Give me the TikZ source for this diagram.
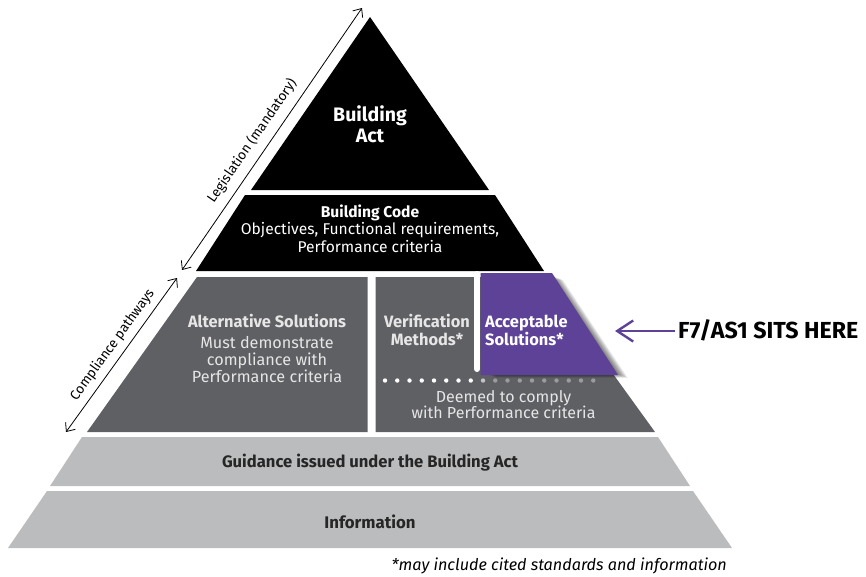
\documentclass[tikz,border=0pt]{standalone}
\usepackage{fontspec}
\setmainfont{Fira Sans}
\usetikzlibrary{arrows.meta}
\definecolor{midgrey}{HTML}{5F6064}
\definecolor{lightgrey}{HTML}{BBBCBE}
\definecolor{purp}{HTML}{5E4298}
\definecolor{paletext}{HTML}{E6E6E6}
\definecolor{dotgrey}{HTML}{9A9B9D}
\definecolor{dottrans}{HTML}{C4C4C6}
\definecolor{darktext}{HTML}{262626}
\begin{document}
\begin{tikzpicture}[x=1pt,y=-1pt,
  txt/.style={inner sep=0pt, align=center},
  dblarrow/.style={{Straight Barb[length=7pt,width=12pt]}-{Straight Barb[length=7pt,width=12pt]}, line width=0.8pt, black},
  farrow/.style={-{Straight Barb[length=16pt,width=21pt]}, line width=2.4pt, purp},
  sidelbl/.style={font=\fontsize{13.6}{15}\selectfont, sloped, inner sep=0pt}
]
\useasboundingbox (0,0) rectangle (866,576);
% layers
\fill[black] (370,17) -- (489,190) -- (251,190) -- cycle;
\fill[black] (245,195) -- (495,195) -- (544,271) -- (196,271) -- cycle;
\fill[midgrey] (197,277) -- (367.5,277) -- (367.5,432) -- (87,432) -- cycle;
\fill[midgrey] (375.5,277) -- (543,277) -- (655,432) -- (375.5,432) -- cycle;
\fill[lightgrey] (82,437) -- (658,437) -- (690,486) -- (50,486) -- cycle;
\fill[lightgrey] (47,491) -- (693,491) -- (732,548) -- (8,548) -- cycle;
% white divider
\draw[white, line width=6pt, line cap=round] (477,274) -- (477,369);
% shadow of purple block
\foreach \k in {1,...,14}
  \fill[black, opacity=0.05, shift={(0.85*\k,0.35*\k)}]
    (484,275) -- (551,275) -- (616,373) -- (484,373) -- cycle;
% purple block
\fill[purp] (480.5,273) -- (552,273) -- (618,375) -- (480.5,375) -- cycle;
% dots
\foreach \i in {0,...,7} \fill[white] (385+12.25*\i,380.5) circle (2.2);
\fill[dottrans] (385+12.25*8,380.5) circle (2.2);
\foreach \i in {9,...,17} \fill[dotgrey] (385+12.25*\i,380.5) circle (2.2);
% texts
\node[txt, text=white, font=\bfseries\fontsize{19.5}{21}\selectfont, anchor=base] (act) at (370,142) {Building\\Act};
\node[txt, text=white, font=\fontsize{15.6}{17.5}\selectfont, anchor=base] (code) at (370,252) {\textbf{Building Code}\\Objectives, Functional requirements,\\Performance criteria};
\node[txt, text=paletext, font=\bfseries\fontsize{16.4}{17}\selectfont, anchor=base] (alttitle) at (267,327) {Alternative Solutions};
\node[txt, text=paletext, font=\fontsize{16.2}{17}\selectfont, anchor=base] (altbody) at (267,382) {Must demonstrate\\compliance with\\Performance criteria};
\node[txt, text=paletext, font=\bfseries\fontsize{16.4}{18}\selectfont, anchor=base] (verif) at (427,345) {Verification\\Methods*};
\node[txt, text=white, font=\bfseries\fontsize{16.4}{18}\selectfont, anchor=base west, align=left] (accept) at (485,345) {Acceptable\\Solutions*};
\node[txt, text=paletext, font=\fontsize{16}{16}\selectfont, anchor=base] (deemed) at (503.5,418) {Deemed to comply\\with Performance criteria};
\node[txt, text=darktext, font=\bfseries\fontsize{16.6}{18}\selectfont, anchor=base] (guid) at (370,467) {Guidance issued under the Building Act};
\node[txt, text=darktext, font=\bfseries\fontsize{16.8}{18}\selectfont, anchor=base] (info) at (370,528) {Information};
\node[txt, text=black, font=\itshape\fontsize{16.2}{18}\selectfont, anchor=base east] (note) at (727,570) {*may include cited standards and information};
\node[txt, text=black, font=\bfseries\fontsize{23.2}{25}\selectfont, anchor=base west] (f7) at (678,338) {F7/AS1 SITS HERE};
% arrows
\coordinate (legtop) at (362,8);
\coordinate (legbot) at (182,270);
\coordinate (comptop) at (177,278);
\coordinate (compbot) at (66,432);
\coordinate (f7tip) at (615,331);
\draw[dblarrow] (legbot) -- node[sidelbl, pos=0.46, above=8pt] (leglbl) {Legislation (mandatory)} (legtop);
\draw[dblarrow] (compbot) -- node[sidelbl, pos=0.515, above=6pt] (complbl) {Compliance pathways} (comptop);
\draw[farrow] ([shift={(-3,-7)}]f7.base west) -- (f7tip);
\end{tikzpicture}
\end{document}
